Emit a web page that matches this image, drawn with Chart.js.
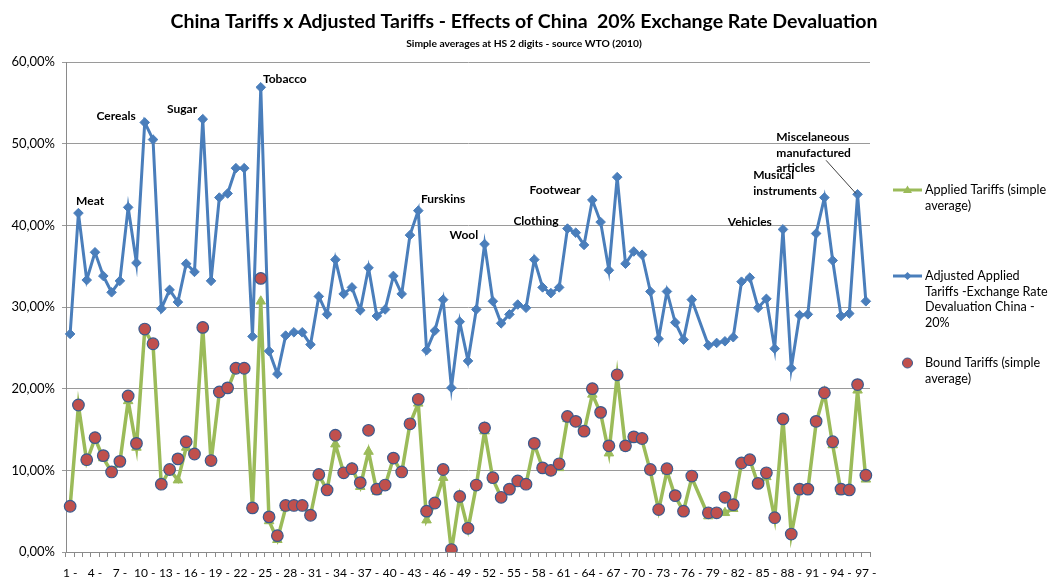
<!DOCTYPE html>
<html><head><meta charset="utf-8">
<script src="https://cdn.jsdelivr.net/npm/chart.js@4.4.0/dist/chart.umd.min.js"></script>
<style>html,body{margin:0;padding:0;background:#fff;}#wrap{width:1050px;height:578px;position:relative;}</style>
</head><body><div id="wrap"><canvas id="c" width="1050" height="578"></canvas></div>
<script>
const categories = ["1 -","2 -","3 -","4 -","5 -","6 -","7 -","8 -","9 -","10 -","11 -","12 -","13 -","14 -","15 -","16 -","17 -","18 -","19 -","20 -","21 -","22 -","23 -","24 -","25 -","26 -","27 -","28 -","29 -","30 -","31 -","32 -","33 -","34 -","35 -","36 -","37 -","38 -","39 -","40 -","41 -","42 -","43 -","44 -","45 -","46 -","47 -","48 -","49 -","50 -","51 -","52 -","53 -","54 -","55 -","56 -","57 -","58 -","59 -","60 -","61 -","62 -","63 -","64 -","65 -","66 -","67 -","68 -","69 -","70 -","71 -","72 -","73 -","74 -","75 -","76 -","77 -","78 -","79 -","80 -","81 -","82 -","83 -","84 -","85 -","86 -","87 -","88 -","89 -","90 -","91 -","92 -","93 -","94 -","95 -","96 -","97 -"];

const appliedTariffs = [5.6,17.9,11.1,13.9,11.5,9.8,11.0,18.5,12.8,27.2, 25.4,8.2,10.1,8.8,12.8,11.9,27.5,11.0,19.5,19.9, 22.5,22.5,5.3,30.7,3.8,1.5,5.4,5.7,5.7,4.5, 9.4,7.6,13.2,9.7,10.3,8.0,12.3,7.4,8.1,11.5, 9.7,15.7,18.2,3.9,5.9,9.1,0.1,6.8,2.8,8.1, 14.8,8.9,6.7,7.6,8.6,8.3,13.2,10.3,9.8,10.3, 16.3,15.9,14.7,19.3,17.0,12.1,21.6,12.8,14.0,13.7, 9.9,5.1,9.9,6.8,5.0,9.1,null,4.4,4.7,4.8, 5.3,10.9,11.3,8.3,9.2,4.1,16.3,2.1,7.5,7.6, 15.8,19.5,13.1,7.4,7.7,19.8,8.9];

const adjustedTariffs = [26.7,41.5,33.3,36.7,33.8,31.8,33.2,42.2,35.4,52.6, 50.5,29.8,32.1,30.6,35.3,34.3,53.0,33.2,43.4,43.9, 47.0,47.0,26.4,56.9,24.6,21.8,26.5,26.9,26.9,25.4, 31.3,29.1,35.8,31.6,32.4,29.6,34.8,28.9,29.7,33.8, 31.6,38.8,41.8,24.7,27.1,30.9,20.1,28.2,23.4,29.7, 37.7,30.7,28.0,29.1,30.3,29.9,35.8,32.4,31.7,32.4, 39.6,39.1,37.6,43.1,40.4,34.5,45.9,35.3,36.8,36.4, 31.9,26.1,31.9,28.1,26.0,30.9,null,25.3,25.6,25.8, 26.3,33.1,33.6,29.9,31.0,24.9,39.5,22.5,29.0,29.1, 39.0,43.4,35.7,28.9,29.2,43.8,30.7];

const boundTariffs = [5.6,18.0,11.3,14.0,11.8,9.8,11.1,19.1,13.3,27.3, 25.5,8.3,10.1,11.4,13.5,12.0,27.5,11.2,19.6,20.1, 22.5,22.5,5.4,33.5,4.3,2.0,5.7,5.7,5.7,4.5, 9.5,7.6,14.3,9.7,10.2,8.5,14.9,7.7,8.2,11.5, 9.8,15.7,18.7,5.0,6.0,10.1,0.3,6.8,2.9,8.2, 15.2,9.1,6.7,7.7,8.7,8.3,13.3,10.3,10.0,10.8, 16.6,16.0,14.8,20.0,17.1,13.0,21.7,13.0,14.1,13.9, 10.1,5.2,10.2,6.9,5.0,9.3,null,4.8,4.8,6.7, 5.8,10.9,11.3,8.4,9.7,4.2,16.3,2.2,7.7,7.7, 16.0,19.5,13.5,7.7,7.6,20.5,9.4];

const yTicks = [0,10,20,30,40,50,60];

const titleText = 'China Tariffs x Adjusted Tariffs - Effects of China  20% Exchange Rate Devaluation';
const subtitleText = 'Simple averages at HS 2 digits - source WTO (2010)';
const seriesNames = ['Applied Tariffs (simple average)','Adjusted Applied Tariffs -Exchange Rate Devaluation China - 20%','Bound Tariffs (simple average)'];
const legendLines = [['Applied Tariffs (simple','average)'],['Adjusted Applied','Tariffs -Exchange Rate','Devaluation China -','20%'],['Bound Tariffs (simple','average)']];

const notes = [
  {lines:['Meat'], at:2.41, val:42.95, align:'center'},
  {lines:['Cereals'], at:5.55, val:53.4, align:'center'},
  {lines:['Sugar'], at:13.5, val:54.2, align:'center'},
  {lines:['Tobacco'], at:25.9, val:57.9, align:'center'},
  {lines:['Furskins'], at:45.0, val:43.2, align:'center'},
  {lines:['Wool'], at:47.5, val:38.75, align:'center'},
  {lines:['Footwear'], at:58.5, val:44.3, align:'center'},
  {lines:['Clothing'], at:56.2, val:40.5, align:'center'},
  {lines:['Vehicles'], at:82.0, val:40.4, align:'center'},
  {lines:['Musical','instruments'], at:82.4, val:46.1, align:'left'},
  {lines:['Miscelaneous','manufactured','articles'], at:85.2, val:50.8, align:'left'}
];
const leader = {from:[91.2, 47.96], to:[94.8, 43.9]};

const GREEN = '#9BBB59', BLUE = '#4A7EBB', RED = '#C0504D', REDBORDER = '#3B5A8E';

const headingPlugin = {
  id: 'heading',
  afterDraw(chart) {
    const ctx = chart.ctx, cx = chart.width / 2;
    ctx.save();
    ctx.fillStyle = '#000';
    ctx.textAlign = 'center';
    ctx.textBaseline = 'middle';
    ctx.font = 'bold 19.5px Lato';
    ctx.fillText(titleText, cx - 1, 22);
    ctx.font = 'bold 10.3px Lato';
    ctx.fillText(subtitleText, cx - 1, 44);
    ctx.restore();
  }
};

const notesPlugin = {
  id: 'notes',
  afterDatasetsDraw(chart) {
    const {ctx, scales: {x, y}} = chart;
    ctx.save();
    ctx.font = 'bold 12px Lato';
    ctx.fillStyle = '#000';
    ctx.textBaseline = 'middle';
    notes.forEach(n => {
      const px = x.getPixelForValue(n.at), py = y.getPixelForValue(n.val);
      ctx.textAlign = n.align;
      n.lines.forEach((t, i) => ctx.fillText(t, px, py + i * 15.5));
    });
    ctx.strokeStyle = '#404040';
    ctx.lineWidth = 1;
    ctx.beginPath();
    ctx.moveTo(x.getPixelForValue(leader.from[0]), y.getPixelForValue(leader.from[1]));
    ctx.lineTo(x.getPixelForValue(leader.to[0]), y.getPixelForValue(leader.to[1]));
    ctx.stroke();
    ctx.restore();
  }
};

const legendPlugin = {
  id: 'sideLegend',
  afterDraw(chart) {
    const {ctx, chartArea} = chart;
    const x0 = chartArea.right + 23, x1 = x0 + 29, tx = x1 + 3;
    const rows = [190, 276, 363];
    ctx.save();
    ctx.font = '12.6px Lato';
    ctx.textBaseline = 'middle';
    ctx.textAlign = 'left';
    rows.forEach((ry, k) => {
      const cx = (x0 + x1) / 2;
      if (k < 2) {
        ctx.strokeStyle = k === 0 ? GREEN : BLUE;
        ctx.lineWidth = 3;
        ctx.beginPath(); ctx.moveTo(x0, ry); ctx.lineTo(x1, ry); ctx.stroke();
      }
      if (k === 0) {
        ctx.fillStyle = GREEN;
        ctx.beginPath(); ctx.moveTo(cx, ry - 4.5); ctx.lineTo(cx + 4.5, ry + 3); ctx.lineTo(cx - 4.5, ry + 3); ctx.closePath(); ctx.fill();
      } else if (k === 1) {
        ctx.fillStyle = BLUE;
        ctx.beginPath(); ctx.moveTo(cx, ry - 4); ctx.lineTo(cx + 4, ry); ctx.lineTo(cx, ry + 4); ctx.lineTo(cx - 4, ry); ctx.closePath(); ctx.fill();
      } else {
        ctx.fillStyle = RED; ctx.strokeStyle = REDBORDER; ctx.lineWidth = 1;
        ctx.beginPath(); ctx.arc(cx, ry, 5, 0, Math.PI * 2); ctx.fill(); ctx.stroke();
      }
      ctx.fillStyle = '#000';
      legendLines[k].forEach((t, i) => ctx.fillText(t, tx, ry + i * 15.7));
    });
    ctx.restore();
  }
};

new Chart(document.getElementById('c'), {
  type: 'line',
  data: {
    labels: categories,
    datasets: [
      {label: seriesNames[0], data: appliedTariffs, borderColor: GREEN, backgroundColor: GREEN, borderWidth: 3.5,
       pointStyle: 'triangle', pointRadius: 5.5, pointBorderWidth: 1, pointBorderColor: GREEN, spanGaps: true, tension: 0, order: 3},
      {label: seriesNames[1], data: adjustedTariffs, borderColor: BLUE, backgroundColor: BLUE, borderWidth: 3,
       pointStyle: 'rectRot', pointRadius: 4.8, pointBorderWidth: 1, pointBorderColor: BLUE, spanGaps: true, tension: 0, order: 2},
      {label: seriesNames[2], data: boundTariffs, showLine: false, borderColor: REDBORDER, backgroundColor: RED,
       pointStyle: 'circle', pointRadius: 5.8, pointBorderWidth: 1.2, pointBorderColor: REDBORDER, pointBackgroundColor: RED, order: 1}
    ]
  },
  options: {
    responsive: false,
    animation: false,
    devicePixelRatio: 1,
    layout: {padding: {left: 0, right: 180, top: 62, bottom: 0}},
    plugins: {
      legend: {display: false},
      tooltip: {enabled: false},
      title: {display: false},
      subtitle: {display: false}
    },
    scales: {
      x: {
        offset: true,
        grid: {offset: true, drawOnChartArea: false, drawTicks: true, tickLength: 5, color: '#8a8a8a'},
        border: {display: true, color: '#8a8a8a', width: 1},
        ticks: {autoSkip: false, maxRotation: 0, minRotation: 0, padding: 9, color: '#000',
          font: {family: 'Lato', size: 12},
          callback: function(v, i) { return i % 3 === 0 ? categories[i] : ''; }},
        afterFit: s => { s.height = 26; }
      },
      y: {
        min: 0, max: 60,
        afterBuildTicks: s => { s.ticks = yTicks.map(v => ({value: v})); },
        grid: {color: '#9a9a9a', lineWidth: 1, drawTicks: true, tickLength: 4},
        border: {display: true, color: '#8a8a8a', width: 1},
        ticks: {padding: 7, color: '#000', font: {family: 'Lato', size: 13},
          callback: v => v.toFixed(2).replace('.', ',') + '%'},
        afterFit: s => { s.width = 66; }
      }
    }
  },
  plugins: [notesPlugin, legendPlugin, headingPlugin]
});
</script></body></html>
